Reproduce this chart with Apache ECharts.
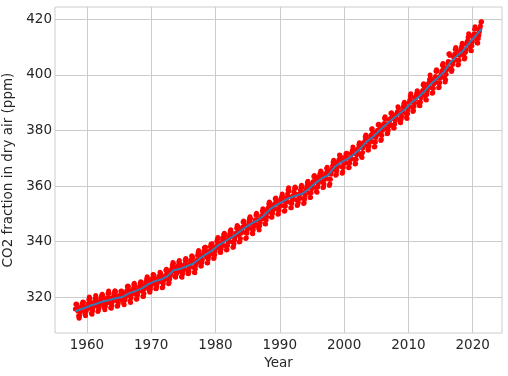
<!DOCTYPE html>
<html>
<head>
<meta charset="utf-8">
<script src="https://cdn.jsdelivr.net/npm/echarts@6/dist/echarts.min.js"></script>
<style>
html, body { margin: 0; padding: 0; background: #fff; }
#chart { width: 508px; height: 376px; }
</style>
</head>
<body>
<div id="chart"></div>
<script>
// monthly CO2 (ppm), first row starts in March 1958
var firstYear = 1958;
var firstMonth = 2;
var co2Monthly = [
    [315.70, 317.45, 317.51, 317.24, 315.86, 314.93, 313.20, 312.43, 313.33, 314.67],
    [315.58, 316.48, 316.65, 317.72, 318.29, 318.15, 316.54, 314.80, 313.84, 313.33, 314.81, 315.58],
    [316.43, 316.98, 317.58, 319.03, 320.04, 319.58, 318.18, 315.90, 314.17, 313.83, 315.00, 316.19],
    [316.90, 317.70, 318.54, 319.48, 320.58, 319.77, 318.57, 316.79, 314.80, 315.38, 316.10, 317.01],
    [317.94, 318.55, 319.68, 320.57, 321.02, 320.62, 319.61, 317.40, 316.25, 315.42, 316.69, 317.70],
    [318.74, 319.07, 319.86, 321.38, 322.25, 321.48, 319.74, 317.77, 316.21, 315.99, 317.07, 318.35],
    [319.57, 320.01, 320.74, 321.84, 322.26, 321.89, 320.44, 318.69, 316.70, 316.87, 317.68, 318.71],
    [319.44, 320.44, 320.89, 322.14, 322.17, 321.87, 321.21, 318.87, 317.81, 317.30, 318.87, 319.42],
    [320.62, 321.59, 322.39, 323.87, 324.01, 323.75, 322.39, 320.37, 318.64, 318.10, 319.79, 321.08],
    [322.07, 322.50, 323.04, 324.42, 325.00, 324.09, 322.54, 320.92, 319.25, 319.39, 320.73, 321.96],
    [322.57, 323.15, 323.89, 325.02, 325.57, 325.36, 324.14, 322.11, 320.33, 320.25, 321.32, 322.89],
    [324.00, 324.42, 325.63, 326.66, 327.38, 326.71, 325.88, 323.66, 322.38, 321.78, 322.86, 324.12],
    [325.06, 325.98, 326.93, 328.13, 328.08, 327.67, 326.34, 324.69, 323.10, 323.06, 324.01, 325.13],
    [326.17, 326.68, 327.17, 327.79, 328.93, 328.57, 327.36, 325.43, 323.36, 323.56, 324.80, 326.01],
    [326.77, 327.63, 327.75, 329.72, 330.07, 329.09, 328.04, 326.32, 324.84, 325.20, 326.50, 327.55],
    [328.55, 329.56, 330.30, 331.50, 332.48, 332.07, 330.87, 329.31, 327.51, 327.18, 328.16, 328.64],
    [329.35, 330.71, 331.48, 332.65, 333.16, 332.06, 330.99, 329.17, 327.41, 327.20, 328.33, 329.50],
    [330.68, 331.41, 331.85, 333.29, 333.91, 333.40, 331.78, 329.88, 328.57, 328.46, 329.26, 330.67],
    [331.71, 332.76, 333.48, 334.78, 334.78, 334.17, 332.78, 330.64, 328.95, 328.77, 330.23, 331.69],
    [332.70, 333.24, 334.96, 336.04, 336.82, 336.13, 334.73, 332.52, 331.19, 331.19, 332.35, 333.47],
    [335.09, 335.26, 336.61, 337.77, 338.00, 337.99, 336.48, 334.37, 332.27, 332.41, 333.76, 334.83],
    [336.21, 336.64, 338.12, 339.02, 339.02, 339.20, 337.58, 335.55, 333.89, 334.14, 335.26, 336.71],
    [337.81, 338.29, 340.04, 340.86, 341.47, 341.26, 339.29, 337.60, 336.12, 336.08, 337.22, 338.34],
    [339.36, 340.51, 341.57, 342.56, 343.01, 342.47, 340.71, 338.52, 336.96, 337.13, 338.58, 339.89],
    [340.93, 341.69, 342.69, 343.79, 344.30, 343.43, 341.86, 339.82, 338.00, 338.09, 339.23, 340.47],
    [341.38, 342.51, 343.12, 344.90, 345.76, 345.32, 343.98, 342.38, 339.87, 339.99, 341.15, 342.99],
    [343.70, 344.50, 345.28, 347.06, 347.43, 346.80, 345.39, 343.28, 341.07, 341.35, 342.98, 344.22],
    [344.97, 345.99, 347.42, 348.35, 348.93, 348.25, 346.56, 344.67, 343.09, 342.80, 344.24, 345.56],
    [346.30, 346.95, 347.85, 349.55, 350.21, 349.54, 347.94, 345.91, 344.86, 344.17, 345.66, 346.90],
    [348.02, 348.47, 349.42, 350.99, 351.84, 351.25, 349.52, 348.10, 346.44, 346.36, 347.81, 348.96],
    [350.43, 351.72, 352.22, 353.59, 354.22, 353.79, 352.39, 350.44, 348.72, 348.88, 350.07, 351.34],
    [352.76, 353.07, 353.68, 355.42, 355.67, 355.12, 353.90, 351.67, 349.80, 349.99, 351.30, 352.52],
    [353.66, 354.70, 355.39, 356.20, 357.16, 356.22, 354.82, 352.91, 350.96, 351.18, 352.83, 354.21],
    [354.72, 355.75, 357.16, 358.60, 359.34, 358.24, 356.17, 354.03, 352.16, 352.21, 353.75, 354.99],
    [355.98, 356.72, 357.81, 359.15, 359.66, 359.25, 357.02, 355.00, 353.01, 353.31, 354.16, 355.40],
    [356.70, 357.17, 358.38, 359.46, 360.28, 359.60, 357.57, 355.52, 353.69, 353.99, 355.34, 356.80],
    [358.37, 358.91, 359.97, 361.26, 361.69, 360.94, 359.55, 357.49, 355.84, 356.00, 357.58, 359.04],
    [359.97, 361.00, 361.64, 363.45, 363.79, 363.26, 361.90, 359.46, 358.06, 357.75, 359.56, 360.70],
    [362.05, 363.25, 364.03, 364.72, 365.41, 364.97, 363.65, 361.49, 359.46, 359.60, 360.76, 362.33],
    [363.18, 363.99, 364.56, 366.36, 366.80, 365.63, 364.47, 362.50, 360.19, 360.78, 362.43, 364.28],
    [365.33, 366.15, 367.31, 368.61, 369.30, 368.87, 367.64, 365.77, 363.90, 364.23, 365.46, 366.97],
    [368.15, 368.87, 369.59, 371.14, 371.00, 370.35, 369.27, 366.94, 364.63, 365.12, 366.67, 368.01],
    [369.14, 369.46, 370.52, 371.66, 371.82, 371.70, 370.12, 368.12, 366.62, 366.73, 368.29, 369.53],
    [370.28, 371.50, 372.12, 372.87, 374.02, 373.30, 371.62, 369.55, 367.96, 368.09, 369.68, 371.24],
    [372.44, 373.08, 373.52, 374.85, 375.55, 375.40, 374.02, 371.48, 370.71, 370.25, 372.08, 373.78],
    [374.68, 375.62, 376.11, 377.65, 378.35, 378.13, 376.62, 374.50, 372.99, 373.01, 374.35, 375.70],
    [376.79, 377.36, 378.39, 380.50, 380.62, 379.55, 377.76, 375.83, 374.05, 374.22, 375.84, 377.44],
    [378.34, 379.61, 380.08, 382.05, 382.24, 382.08, 380.67, 378.67, 376.42, 376.80, 378.31, 379.96],
    [381.37, 382.02, 382.56, 384.37, 384.92, 384.03, 382.28, 380.48, 378.81, 379.06, 380.14, 381.66],
    [382.58, 383.71, 384.34, 386.23, 386.41, 385.87, 384.45, 381.84, 380.86, 380.86, 382.36, 383.61],
    [385.07, 385.84, 385.83, 386.77, 388.51, 388.05, 386.25, 384.08, 383.09, 382.78, 384.01, 385.11],
    [386.65, 387.12, 388.52, 389.57, 390.16, 389.62, 388.07, 386.08, 384.65, 384.33, 386.05, 387.49],
    [388.55, 390.07, 391.01, 392.38, 393.22, 392.24, 390.33, 388.52, 386.84, 387.16, 388.67, 389.81],
    [391.30, 391.92, 392.45, 393.37, 394.28, 393.69, 392.59, 390.21, 389.00, 388.93, 390.24, 391.80],
    [393.07, 393.35, 394.36, 396.43, 396.87, 395.88, 394.52, 392.54, 391.13, 391.01, 392.95, 394.34],
    [395.61, 396.85, 397.26, 398.35, 399.98, 398.87, 397.37, 395.41, 393.39, 393.70, 395.19, 396.82],
    [397.92, 398.10, 399.47, 401.33, 401.88, 401.31, 399.07, 397.21, 395.40, 395.65, 397.23, 398.79],
    [399.85, 400.31, 401.51, 403.45, 404.10, 402.88, 401.61, 399.00, 397.50, 398.28, 400.24, 401.89],
    [402.65, 404.16, 404.85, 407.57, 407.66, 406.99, 404.59, 402.45, 401.23, 401.79, 403.72, 404.64],
    [406.36, 406.66, 407.54, 409.22, 409.89, 409.08, 407.33, 405.32, 403.57, 403.82, 405.31, 407.00],
    [408.15, 408.52, 409.59, 410.45, 411.44, 410.99, 408.90, 407.16, 405.71, 406.19, 408.21, 409.27],
    [411.03, 411.96, 412.18, 413.54, 414.86, 414.16, 411.97, 410.18, 408.76, 408.75, 410.48, 411.98],
    [413.61, 414.34, 414.74, 416.45, 417.31, 416.60, 414.62, 412.78, 411.52, 411.51, 413.11, 414.25],
    [415.52, 416.75, 417.64, 419.05, 419.13]
];

// deseasonalized trend
var trendYears = [1958.2, 1958.5, 1959.5, 1960.5, 1961.5, 1962.5, 1963.5, 1964.5, 1965.5, 1966.5,
    1967.5, 1968.5, 1969.5, 1970.5, 1971.5, 1972.5, 1973.5, 1974.5, 1975.5, 1976.5,
    1977.5, 1978.5, 1979.5, 1980.5, 1981.5, 1982.5, 1983.5, 1984.5, 1985.5, 1986.5,
    1987.5, 1988.5, 1989.5, 1990.5, 1991.5, 1992.5, 1993.5, 1994.5, 1995.5, 1996.5,
    1997.5, 1998.5, 1999.5, 2000.5, 2001.5, 2002.5, 2003.5, 2004.5, 2005.5, 2006.5,
    2007.5, 2008.5, 2009.5, 2010.5, 2011.5, 2012.5, 2013.5, 2014.5, 2015.5, 2016.5,
    2017.5, 2018.5, 2019.5, 2020.5, 2021.4];
var trendValues = [314.9, 315.3, 315.98, 316.91, 317.64, 318.45, 318.99, 319.62, 320.04, 321.37,
    322.18, 323.05, 324.62, 325.68, 326.32, 327.46, 329.68, 330.19, 331.12, 332.03,
    333.84, 335.41, 336.84, 338.76, 340.12, 341.48, 343.15, 344.87, 346.35, 347.61,
    349.31, 351.69, 353.20, 354.45, 355.70, 356.54, 357.21, 358.96, 360.97, 362.74,
    363.88, 366.84, 368.54, 369.71, 371.32, 373.45, 375.98, 377.70, 379.98, 382.09,
    384.02, 385.83, 387.64, 390.10, 391.85, 394.06, 396.74, 398.81, 401.01, 404.41,
    406.76, 408.72, 411.66, 414.24, 416.6];

var xTicks = [1960, 1970, 1980, 1990, 2000, 2010, 2020];
var yTicks = [320, 340, 360, 380, 400, 420];

var textColor = '#262626';
var gridColor = '#cccccc';
var font = 'DejaVu Sans';

var points = [];
co2Monthly.forEach(function (row, i) {
    var start = i === 0 ? firstMonth : 0;
    row.forEach(function (v, j) {
        points.push([firstYear + i + (start + j + 0.5) / 12, v]);
    });
});
var trend = trendYears.map(function (y, i) {
    return [y, trendValues[i]];
});

var chart = echarts.init(document.getElementById('chart'));
chart.setOption({
    animation: false,
    grid: {
        left: 55, right: 6, top: 7, bottom: 43,
        outerBoundsMode: 'none',
        containLabel: false,
        show: true, borderColor: gridColor, borderWidth: 1
    },
    xAxis: {
        type: 'value',
        min: 1955.04, max: 2024.56,
        name: 'Year',
        nameLocation: 'middle',
        nameGap: 21,
        nameTextStyle: { color: textColor, fontSize: 13.5, fontFamily: font },
        axisLine: { show: false },
        axisTick: { show: false, customValues: xTicks },
        axisLabel: {
            customValues: xTicks, color: textColor, fontSize: 13.5, fontFamily: font, margin: 5,
            formatter: function (v) { return String(v); }
        },
        splitLine: { show: true, lineStyle: { color: gridColor, width: 1 } }
    },
    yAxis: {
        type: 'value',
        min: 307.09, max: 424.46,
        name: 'CO2 fraction in dry air (ppm)',
        nameLocation: 'middle',
        nameGap: 36,
        nameTextStyle: { color: textColor, fontSize: 13.5, fontFamily: font },
        axisLine: { show: false },
        axisTick: { show: false, customValues: yTicks },
        axisLabel: {
            customValues: yTicks, color: textColor, fontSize: 13.5, fontFamily: font, margin: 3,
            formatter: function (v) { return String(v); }
        },
        splitLine: { show: true, lineStyle: { color: gridColor, width: 1 } }
    },
    series: [
        {
            type: 'scatter',
            data: points,
            symbolSize: 5,
            itemStyle: { color: '#ff0000', opacity: 1 }
        },
        {
            type: 'line',
            data: trend,
            showSymbol: false,
            lineStyle: { color: '#3579b5', width: 2 },
            z: 3
        }
    ]
});
</script>
</body>
</html>
